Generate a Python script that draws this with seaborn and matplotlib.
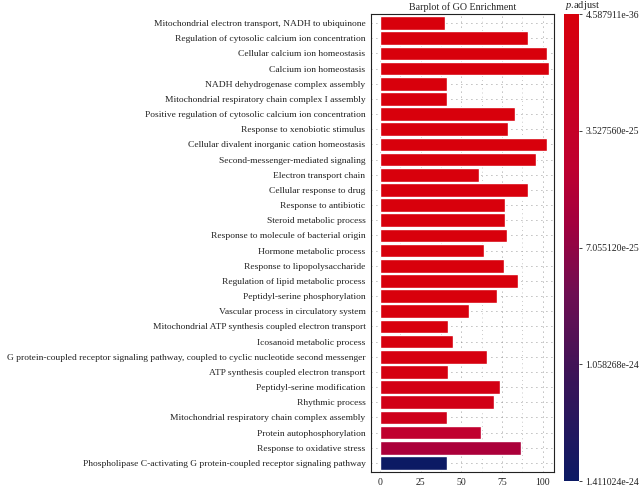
import numpy as np
import pandas as pd
import matplotlib
matplotlib.use('Agg')
import matplotlib.pyplot as plt
import seaborn as sns
from matplotlib.colors import LinearSegmentedColormap, Normalize
from matplotlib.cm import ScalarMappable
from matplotlib.ticker import MultipleLocator

terms = [
    'Mitochondrial electron transport, NADH to ubiquinone',
    'Regulation of cytosolic calcium ion concentration',
    'Cellular calcium ion homeostasis',
    'Calcium ion homeostasis',
    'NADH dehydrogenase complex assembly',
    'Mitochondrial respiratory chain complex I assembly',
    'Positive regulation of cytosolic calcium ion concentration',
    'Response to xenobiotic stimulus',
    'Cellular divalent inorganic cation homeostasis',
    'Second-messenger-mediated signaling',
    'Electron transport chain',
    'Cellular response to drug',
    'Response to antibiotic',
    'Steroid metabolic process',
    'Response to molecule of bacterial origin',
    'Hormone metabolic process',
    'Response to lipopolysaccharide',
    'Regulation of lipid metabolic process',
    'Peptidyl-serine phosphorylation',
    'Vascular process in circulatory system',
    'Mitochondrial ATP synthesis coupled electron transport',
    'Icosanoid metabolic process',
    'G protein-coupled receptor signaling pathway, coupled to cyclic nucleotide second messenger',
    'ATP synthesis coupled electron transport',
    'Peptidyl-serine modification',
    'Rhythmic process',
    'Mitochondrial respiratory chain complex assembly',
    'Protein autophosphorylation',
    'Response to oxidative stress',
    'Phospholipase C-activating G protein-coupled receptor signaling pathway',
]
counts = [40, 91, 103, 104, 41, 41, 83, 79, 103, 96, 61, 91, 77, 77, 78,
          64, 76, 85, 72, 55, 42, 45, 66, 42, 74, 70, 41, 62, 87, 41]
p_adjust = [4.587911e-36, 2e-33, 5e-33, 8e-33, 3e-32, 6e-32, 1e-31, 4e-31,
            9e-31, 2e-30, 5e-30, 1e-29, 3e-29, 6e-29, 1e-28, 3e-28, 7e-28,
            1e-27, 3e-27, 6e-27, 1e-26, 2e-26, 4e-26, 6e-26, 9e-26, 1.3e-25,
            1.8e-25, 4.4e-25, 5.8e-25, 1.411024e-24]

sns.set_style('white')
plt.rcParams['font.family'] = ['Liberation Serif', 'DejaVu Serif']
plt.rcParams['mathtext.fontset'] = 'custom'
plt.rcParams['mathtext.it'] = 'Liberation Serif:italic'
plt.rcParams['mathtext.rm'] = 'Liberation Serif'

cmap = LinearSegmentedColormap.from_list('padj', [
    (0.0, '#D8000C'), (0.33, '#BE0030'), (0.45, '#A2003E'),
    (0.6, '#6E0E52'), (0.78, '#3A1458'), (1.0, '#0C1A64')])
norm = Normalize(min(p_adjust), max(p_adjust))
palette = {t: cmap(norm(p)) for t, p in zip(terms, p_adjust)}

df = pd.DataFrame({'term': terms, 'Count': counts, 'p.adjust': p_adjust})

fig = plt.figure(figsize=(6.4, 4.86), dpi=100)
ax = fig.add_axes([371 / 640, 14 / 486, 183 / 640, 458 / 486])
sns.barplot(data=df, x='Count', y='term', hue='term', palette=palette,
            order=terms, width=0.9, saturation=1, legend=False, ax=ax)

ax.set_xlim(-5.5, 107.0)
ax.set_ylim(29.6, -0.6)
ax.set_xticks([0, 25, 50, 75, 100])
ax.xaxis.set_minor_locator(MultipleLocator(12.5))
ax.set_axisbelow(True)
ax.grid(True, which='major', linestyle=(0, (1, 5)), color='#7a7a7a', linewidth=0.6)
ax.grid(True, which='minor', axis='x', linestyle=(0, (1, 5)), color='#9a9a9a', linewidth=0.5)
ax.set_xlabel('')
ax.set_ylabel('')
ax.set_title('Barplot of GO Enrichment', fontsize=7.2, pad=3)
ax.tick_params(axis='both', which='major', length=2.5, width=0.6,
               labelsize=7.0, pad=1.5, colors='#222222')
ax.tick_params(axis='y', labelsize=6.8)
ax.tick_params(axis='x', which='minor', length=0)
for s in ax.spines.values():
    s.set_color('#222222')
    s.set_linewidth(0.8)

cax = fig.add_axes([564 / 640, 5 / 486, 15 / 640, 467 / 486])
sm = ScalarMappable(norm=norm, cmap=cmap)
cb = fig.colorbar(sm, cax=cax)
cb.outline.set_visible(False)
cax.invert_yaxis()
cb_ticks = np.linspace(min(p_adjust), max(p_adjust), 5)
cb.set_ticks(cb_ticks)
cb.set_ticklabels(['%.6e' % v for v in cb_ticks])
cax.tick_params(length=2.5, width=0.6, labelsize=7.0, pad=2, colors='#222222')
fig.text(565 / 640, 1 - 5 / 486, '$p$.adjust', fontsize=7.5, va='center', ha='left')

fig.savefig('out.png', dpi=100)
